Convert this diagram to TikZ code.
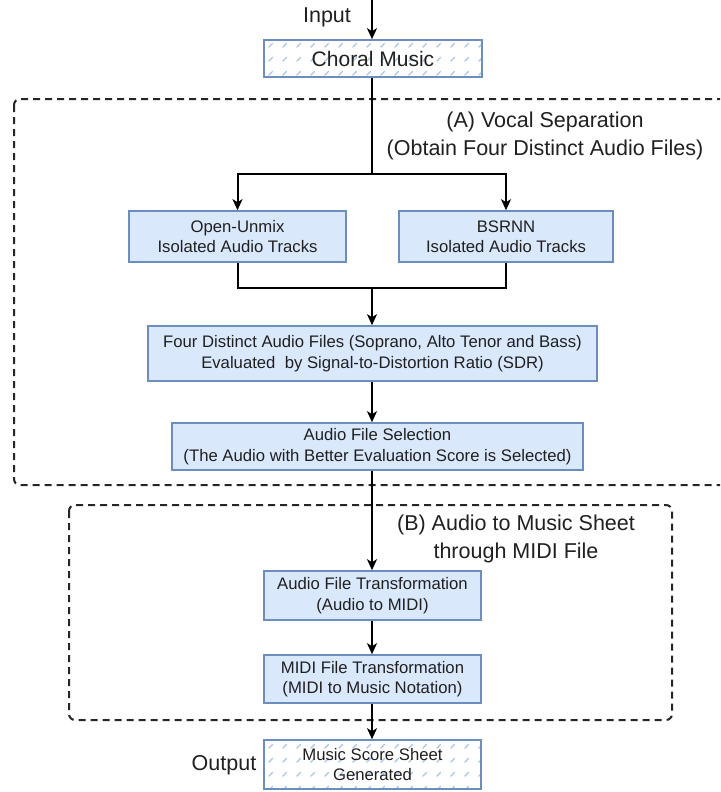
\documentclass[tikz,border=0pt]{standalone}
\usepackage{fontspec}
\setmainfont{Liberation Sans}
\usetikzlibrary{arrows.meta,patterns.meta}
\definecolor{boxfill}{HTML}{DAE8FC}
\definecolor{boxline}{HTML}{6C8EBF}
\definecolor{txt}{HTML}{202020}
\definecolor{hatch}{HTML}{A9C4EB}
\tikzdeclarepattern{
  name=dashhatch,
  type=uncolored,
  bounding box={(0pt,0pt) and (14pt,14pt)},
  tile size={(14pt,14pt)},
  code={\draw[line width=1.3pt,line cap=round] (3pt,3pt) -- (7pt,7pt);}
}
\tikzset{
  procbox/.style={draw=boxline,fill=boxfill,line width=1.6pt,inner sep=0pt,align=center,
    text=txt,font=\fontsize{16.7}{20.5}\selectfont},
  hatchbox/.style={draw=boxline,line width=1.6pt,inner sep=0pt,align=center,text=txt,
    pattern={dashhatch},pattern color=hatch,font=\fontsize{16.7}{20.5}\selectfont},
  biglabel/.style={text=txt,font=\fontsize{21.5}{28}\selectfont,align=center,inner sep=0pt},
  arr/.style={line width=2pt,-{Stealth[length=11pt,width=10pt,inset=3pt]}},
  conn/.style={line width=2pt},
  group/.style={draw=black!85,line width=2pt,dash pattern=on 7pt off 5pt,rounded corners=6pt}
}
\begin{document}
\begin{tikzpicture}[x=1pt,y=-1pt]
\clip (0,0) rectangle (720,792);
\fill[white] (0,0) rectangle (720,792);
% group boxes
\draw[group] (14,99) rectangle (740,485);
\draw[group] (69,505) rectangle (672,720);
% labels
\node[biglabel] (inlbl) at (327,17) {Input};
\node[biglabel] (outlbl) at (224,765) {Output};
\node[biglabel] (alabel) at (545,136) {(A) Vocal Separation\\(Obtain Four Distinct Audio Files)};
\node[biglabel] (blabel) at (516,539) {(B) Audio to Music Sheet\\through MIDI File};
% nodes
\node[hatchbox,minimum width=218pt,minimum height=37pt,font=\fontsize{21}{26}\selectfont] (choral) at (373,58.5) {Choral Music};
\node[procbox,minimum width=217pt,minimum height=51pt] (ou) at (237.5,236.5) {Open-Unmix\\Isolated Audio Tracks};
\node[procbox,minimum width=214pt,minimum height=51pt] (bs) at (506,236.5) {BSRNN\\Isolated Audio Tracks};
\node[procbox,minimum width=449pt,minimum height=55pt] (four) at (372.5,353.5) {Four Distinct Audio Files (Soprano, Alto Tenor and Bass)\\Evaluated\ \ by Signal-to-Distortion Ratio (SDR)};
\node[procbox,minimum width=411pt,minimum height=47pt] (sel) at (377.5,446.5) {Audio File Selection\\(The Audio with Better Evaluation Score is Selected)};
\node[procbox,minimum width=217pt,minimum height=49pt] (aft) at (372.5,595.5) {Audio File Transformation\\(Audio to MIDI)};
\node[procbox,minimum width=217pt,minimum height=48pt] (mft) at (372.5,679) {MIDI File Transformation\\(MIDI to Music Notation)};
\node[hatchbox,minimum width=217pt,minimum height=49pt] (score) at (372.5,764.5) {Music Score Sheet\\Generated};
% coordinates
\coordinate (intop) at (372,-2);
\coordinate (split) at (372,174);
\coordinate (merge) at (372,288);
% connectors
\draw[arr] (intop) -- (intop |- choral.north);
\draw[conn] (choral.south -| split) -- (split);
\draw[arr] (split) -| (ou.north);
\draw[arr] (split) -| (bs.north);
\draw[conn] (ou.south) |- (merge);
\draw[conn] (bs.south) |- (merge);
\draw[arr] (merge) -- (merge |- four.north);
\draw[arr] (four.south -| merge) -- (merge |- sel.north);
\draw[arr] (sel.south -| merge) -- (merge |- aft.north);
\draw[arr] (aft.south -| merge) -- (merge |- mft.north);
\draw[arr] (mft.south -| merge) -- (merge |- score.north);
\end{tikzpicture}
\end{document}
